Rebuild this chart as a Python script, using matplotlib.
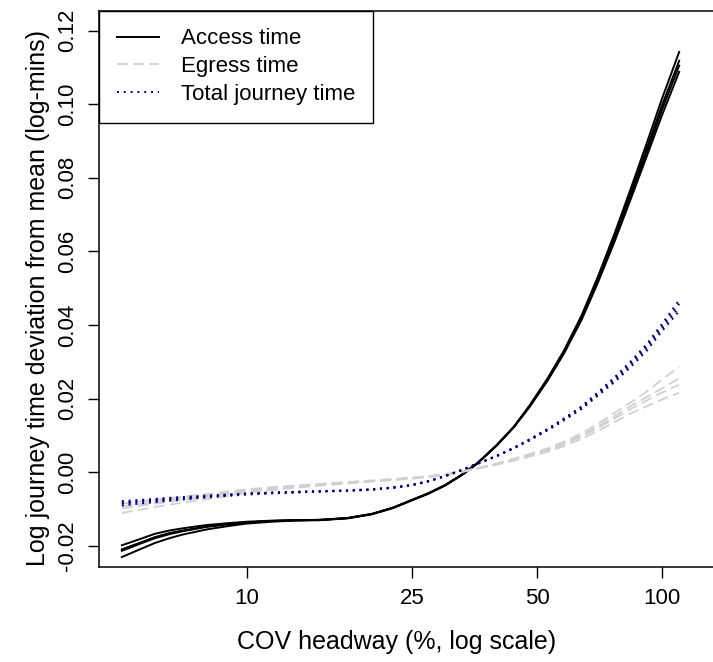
import numpy as np
import matplotlib
matplotlib.use("Agg")
import matplotlib.pyplot as plt

plt.rcParams["font.family"] = ["Liberation Sans", "DejaVu Sans"]
plt.rcParams["axes.unicode_minus"] = False

# COV headway (%) at which each fitted curve is evaluated
cov = [5, 5.5, 6, 6.5, 7, 8, 9, 10, 11.5, 13, 15, 17.5, 20, 22.5, 25, 27.5, 30,
       33, 36, 40, 44, 48, 53, 58, 64, 70, 77, 84, 92, 100, 110]

# access time: one row per fitted model
access = [
    [-0.0198, -0.0182, -0.0167, -0.0158, -0.0152, -0.0143, -0.0138, -0.0134, -0.0131, -0.0130,
     -0.0129, -0.0124, -0.0113, -0.0096, -0.0075, -0.0056, -0.0035,
     -0.0006, 0.0026, 0.0074, 0.0124, 0.0182, 0.0255, 0.0330, 0.0426, 0.0530, 0.0651, 0.0769,
     0.0896, 0.1015, 0.1142],
    [-0.0209, -0.0192, -0.0176, -0.0165, -0.0158, -0.0147, -0.0141, -0.0136, -0.0132, -0.0130,
     -0.0129, -0.0124, -0.0113, -0.0096, -0.0075, -0.0056, -0.0035,
     -0.0006, 0.0026, 0.0074, 0.0124, 0.0181, 0.0253, 0.0327, 0.0422, 0.0524, 0.0643, 0.0758,
     0.0882, 0.0997, 0.1118],
    [-0.0213, -0.0195, -0.0179, -0.0168, -0.0160, -0.0148, -0.0141, -0.0136, -0.0132, -0.0130,
     -0.0129, -0.0124, -0.0113, -0.0096, -0.0075, -0.0056, -0.0035,
     -0.0006, 0.0026, 0.0074, 0.0124, 0.0179, 0.0251, 0.0324, 0.0417, 0.0518, 0.0635, 0.0749,
     0.0871, 0.0985, 0.1105],
    [-0.0230, -0.0210, -0.0192, -0.0179, -0.0169, -0.0155, -0.0146, -0.0139, -0.0134, -0.0131,
     -0.0130, -0.0125, -0.0114, -0.0097, -0.0076, -0.0057, -0.0036,
     -0.0007, 0.0025, 0.0073, 0.0123, 0.0178, 0.0249, 0.0322, 0.0414, 0.0514, 0.0629, 0.0741,
     0.0860, 0.0970, 0.1088],
]

# egress time
egress = [
    [-0.0085, -0.0079, -0.0074, -0.0070, -0.0066, -0.0059, -0.0052, -0.0046, -0.0040, -0.0036,
     -0.0031, -0.0026, -0.0022, -0.0018, -0.0014, -0.0010, -0.0005,
     0.0003, 0.0012, 0.0024, 0.0037, 0.0050, 0.0065, 0.0083, 0.0106, 0.0132, 0.0162, 0.0190,
     0.0220, 0.0252, 0.0287],
    [-0.0092, -0.0086, -0.0080, -0.0075, -0.0071, -0.0064, -0.0056, -0.0049, -0.0043, -0.0038,
     -0.0033, -0.0027, -0.0023, -0.0019, -0.0015, -0.0011, -0.0006,
     0.0002, 0.0011, 0.0023, 0.0035, 0.0047, 0.0062, 0.0079, 0.0101, 0.0125, 0.0153, 0.0180,
     0.0205, 0.0228, 0.0256],
    [-0.0098, -0.0091, -0.0085, -0.0080, -0.0075, -0.0067, -0.0059, -0.0051, -0.0045, -0.0040,
     -0.0034, -0.0028, -0.0024, -0.0020, -0.0016, -0.0011, -0.0006,
     0.0002, 0.0011, 0.0022, 0.0034, 0.0046, 0.0060, 0.0076, 0.0097, 0.0120, 0.0147, 0.0172,
     0.0196, 0.0217, 0.0238],
    [-0.0110, -0.0102, -0.0094, -0.0088, -0.0082, -0.0073, -0.0064, -0.0055, -0.0048, -0.0042,
     -0.0036, -0.0030, -0.0025, -0.0021, -0.0017, -0.0012, -0.0007,
     0.0001, 0.0010, 0.0021, 0.0032, 0.0043, 0.0056, 0.0071, 0.0091, 0.0112, 0.0137, 0.0160,
     0.0180, 0.0198, 0.0216],
]

# total journey time
total = [
    [-0.0078, -0.0075, -0.0072, -0.0069, -0.0067, -0.0063, -0.0060, -0.0057, -0.0055, -0.0053,
     -0.0051, -0.0049, -0.0046, -0.0041, -0.0034, -0.0023, -0.0010,
     0.0007, 0.0024, 0.0045, 0.0067, 0.0090, 0.0118, 0.0146, 0.0179, 0.0217, 0.0259, 0.0301,
     0.0349, 0.0403, 0.0468],
    [-0.0082, -0.0078, -0.0075, -0.0072, -0.0069, -0.0065, -0.0061, -0.0058, -0.0055, -0.0053,
     -0.0051, -0.0049, -0.0046, -0.0041, -0.0034, -0.0023, -0.0010,
     0.0007, 0.0024, 0.0045, 0.0067, 0.0089, 0.0117, 0.0145, 0.0177, 0.0214, 0.0255, 0.0297,
     0.0344, 0.0397, 0.0458],
    [-0.0085, -0.0081, -0.0077, -0.0074, -0.0071, -0.0066, -0.0062, -0.0059, -0.0056, -0.0054,
     -0.0052, -0.0050, -0.0047, -0.0042, -0.0035, -0.0024, -0.0010,
     0.0007, 0.0024, 0.0045, 0.0066, 0.0088, 0.0116, 0.0143, 0.0175, 0.0211, 0.0251, 0.0292,
     0.0338, 0.0391, 0.0448],
    [-0.0090, -0.0085, -0.0081, -0.0077, -0.0074, -0.0068, -0.0064, -0.0060, -0.0057, -0.0055,
     -0.0052, -0.0050, -0.0047, -0.0042, -0.0035, -0.0024, -0.0011,
     0.0006, 0.0023, 0.0044, 0.0065, 0.0087, 0.0114, 0.0141, 0.0172, 0.0208, 0.0246, 0.0286,
     0.0331, 0.0384, 0.0438],
]

xticks = [10, 25, 50, 100]
yticks = [-0.02, 0.00, 0.02, 0.04, 0.06, 0.08, 0.10, 0.12]

FS = 16
fig = plt.figure(figsize=(7.13, 6.62), dpi=100)
ax = fig.add_axes([99 / 713, 1 - 567 / 662, 1 - 99 / 713, (567 - 10.7) / 662])

for i, row in enumerate(access):
    ax.plot(cov, row, color="black", lw=1.4, label="Access time" if i == 0 else None)
for i, row in enumerate(egress):
    ax.plot(cov, row, color="#d0d0d0", lw=1.3, dashes=(6, 3),
            label="Egress time" if i == 0 else None)
for i, row in enumerate(total):
    ax.plot(cov, row, color="#00008B", lw=1.4, dashes=(1, 2.5),
            label="Total journey time" if i == 0 else None)

ax.set_xscale("log")
ax.set_xlim(4.405, 132.7)
ax.set_ylim(-0.0257, 0.1254)
ax.set_xticks(xticks)
ax.set_xticklabels([str(t) for t in xticks])
ax.xaxis.set_minor_locator(matplotlib.ticker.NullLocator())
ax.set_yticks(yticks)
ax.set_yticklabels([f"{t:.2f}" for t in yticks], rotation=90, va="center")
ax.tick_params(labelsize=FS, length=8, width=1, pad=7, colors="black")
ax.spines["right"].set_visible(False)
for s in ("left", "bottom", "top"):
    ax.spines[s].set_linewidth(1.1)

ax.set_xlabel("COV headway (%, log scale)", fontsize=18, labelpad=15, x=0.484)
ax.set_ylabel("Log journey time deviation from mean (log-mins)", fontsize=18,
              labelpad=5, y=0.484)

leg = ax.legend(loc="upper left", bbox_to_anchor=(0, 1), borderaxespad=0,
                fontsize=FS, fancybox=False, framealpha=1, edgecolor="black",
                handlelength=1.9, handletextpad=1.0, labelspacing=0.3, borderpad=0.8)
leg.get_frame().set_linewidth(1.0)

fig.savefig("out.png", dpi=100)
